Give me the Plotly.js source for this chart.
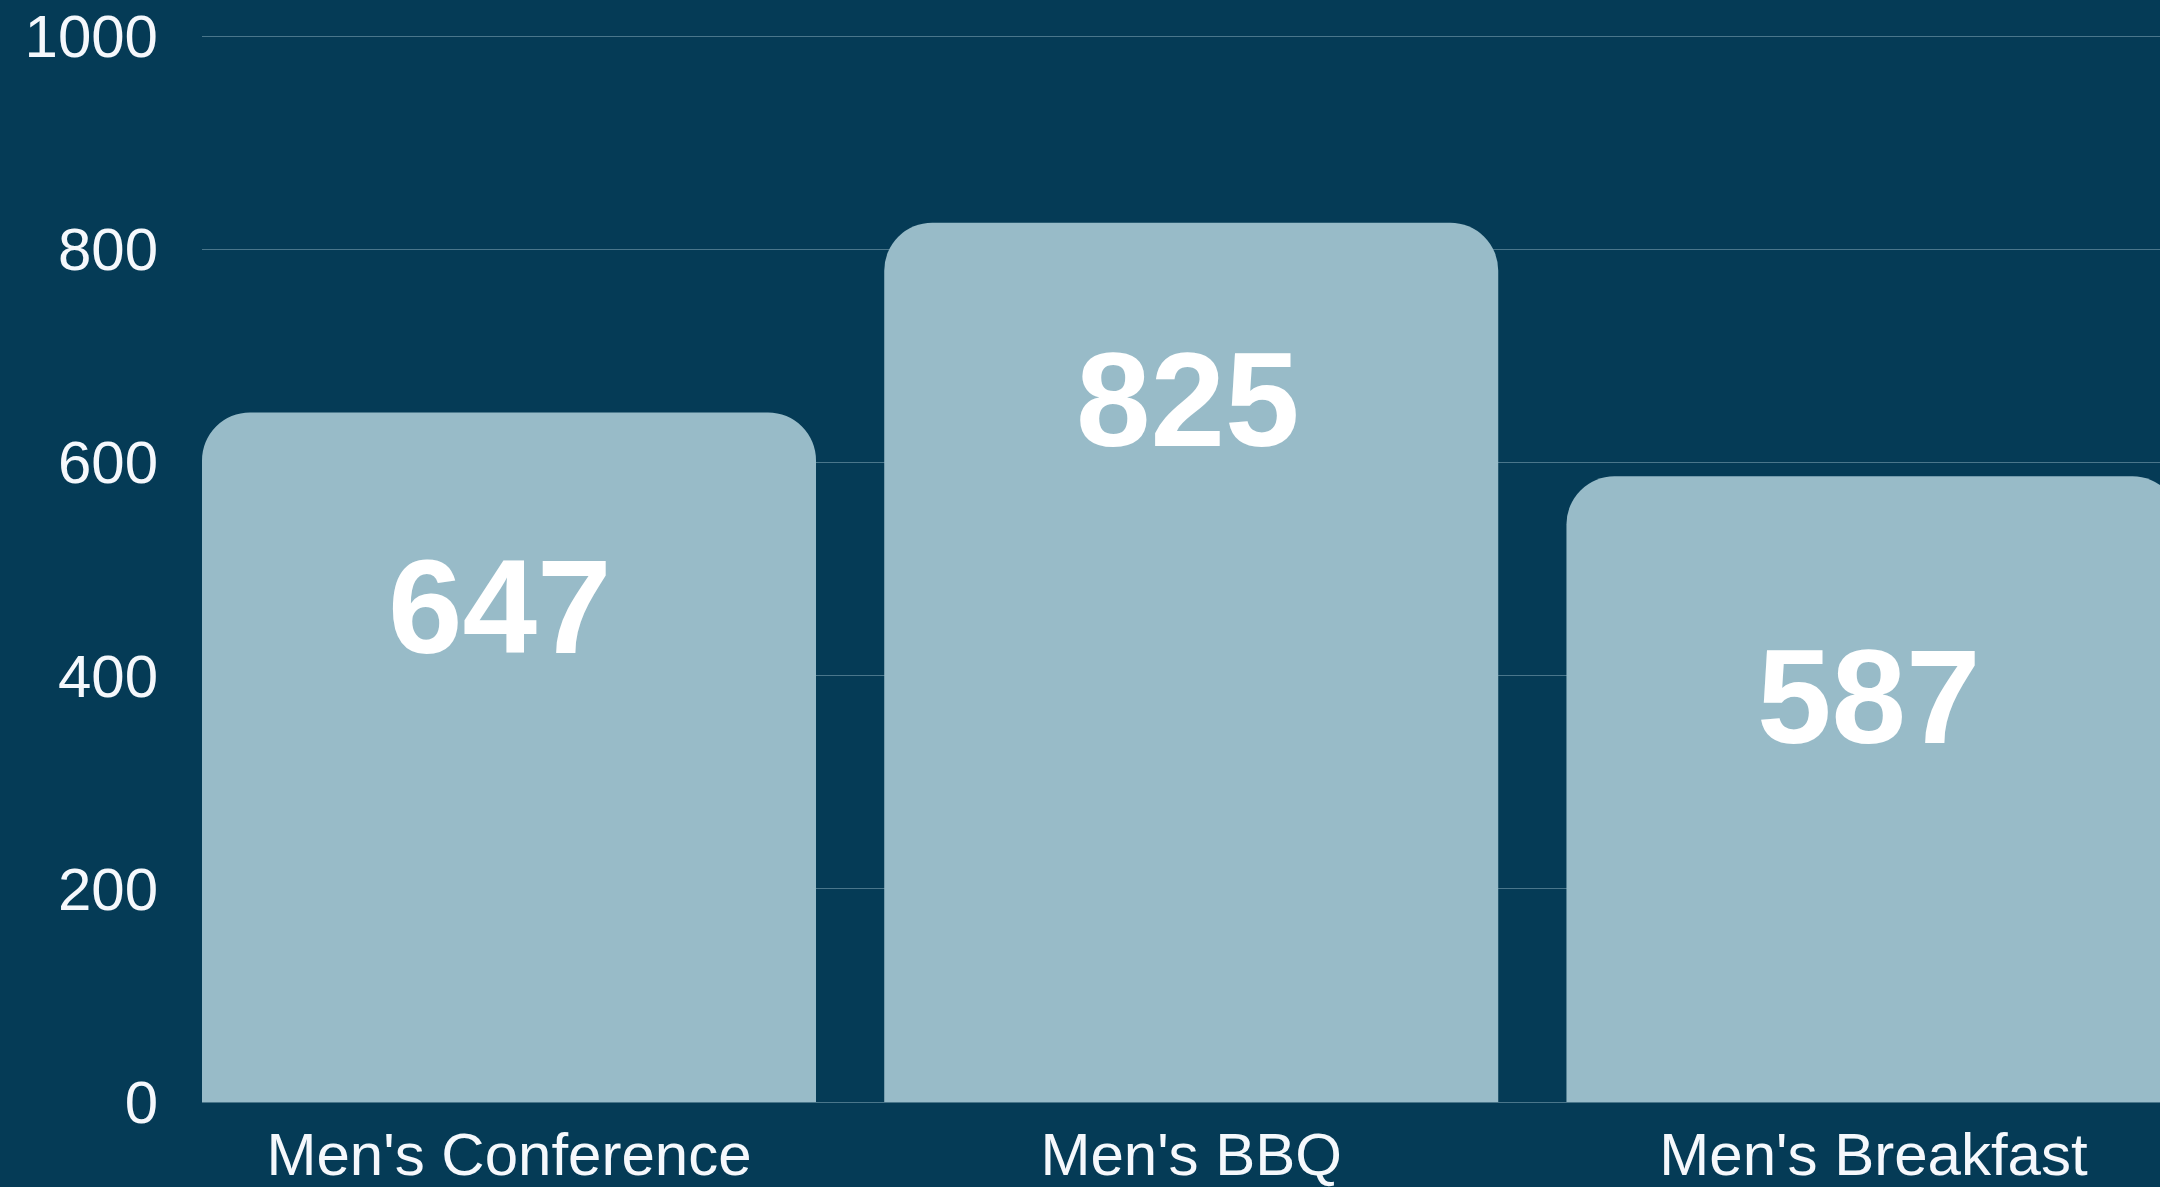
<!DOCTYPE html>
<html>
<head>
<meta charset="utf-8">
<script src="https://cdn.plot.ly/plotly-3.0.1.min.js"></script>
<style>
  html, body { margin: 0; padding: 0; background: #053B56; }
  #chart { width: 2160px; height: 1187px; }
</style>
</head>
<body>
<div id="chart"></div>
<script>
// Data
const categories = ["Men's Conference", "Men's BBQ", "Men's Breakfast"];
const attendance = [647, 825, 587];
const yTickValues = [0, 200, 400, 600, 800, 1000];

// Style: per-label offsets (px) of the value labels relative to the bar top
const labelYShift = [-194, -177, -220];
const labelXShift = [-9, -3, -4];

const bgColor = '#053B56';
const barColor = '#98BBC8';
const fontFamily = '"Liberation Sans", Arial, sans-serif';

const trace = {
  type: 'bar',
  x: categories,
  y: attendance,
  marker: { color: barColor, line: { width: 0 } },
  hoverinfo: 'x+y'
};

const annotations = categories.map((c, i) => ({
  x: c,
  y: attendance[i],
  xref: 'x',
  yref: 'y',
  text: String(attendance[i]),
  showarrow: false,
  yanchor: 'middle',
  xanchor: 'center',
  yshift: labelYShift[i],
  xshift: labelXShift[i],
  font: { family: fontFamily, size: 134, color: '#FFFFFF', weight: 'bold' }
}));

const layout = {
  width: 2160,
  height: 1187,
  paper_bgcolor: bgColor,
  plot_bgcolor: bgColor,
  margin: { l: 202, r: 0, t: 34, b: 85, pad: 0 },
  bargap: 0.1,
  barcornerradius: 48,
  showlegend: false,
  font: { family: fontFamily, color: '#F5F8FC', size: 60 },
  xaxis: {
    type: 'category',
    range: [-0.45, 2.42],
    showgrid: false,
    zeroline: false,
    showline: false,
    ticks: '',
    tickfont: { family: fontFamily, size: 60, color: '#F5F8FC' },
    ticklabelstandoff: 12,
    fixedrange: true
  },
  yaxis: {
    range: [0, 1002],
    tickvals: yTickValues,
    ticktext: yTickValues.map(String),
    showgrid: true,
    gridcolor: 'rgba(160,190,205,0.45)',
    gridwidth: 1,
    zeroline: true,
    zerolinecolor: 'rgba(160,190,205,0.45)',
    zerolinewidth: 1,
    showline: false,
    ticks: '',
    tickfont: { family: fontFamily, size: 60, color: '#F5F8FC' },
    ticklabelstandoff: 43,
    fixedrange: true
  },
  annotations: annotations
};

Plotly.newPlot('chart', [trace], layout, { displayModeBar: false, staticPlot: true });
</script>
</body>
</html>
